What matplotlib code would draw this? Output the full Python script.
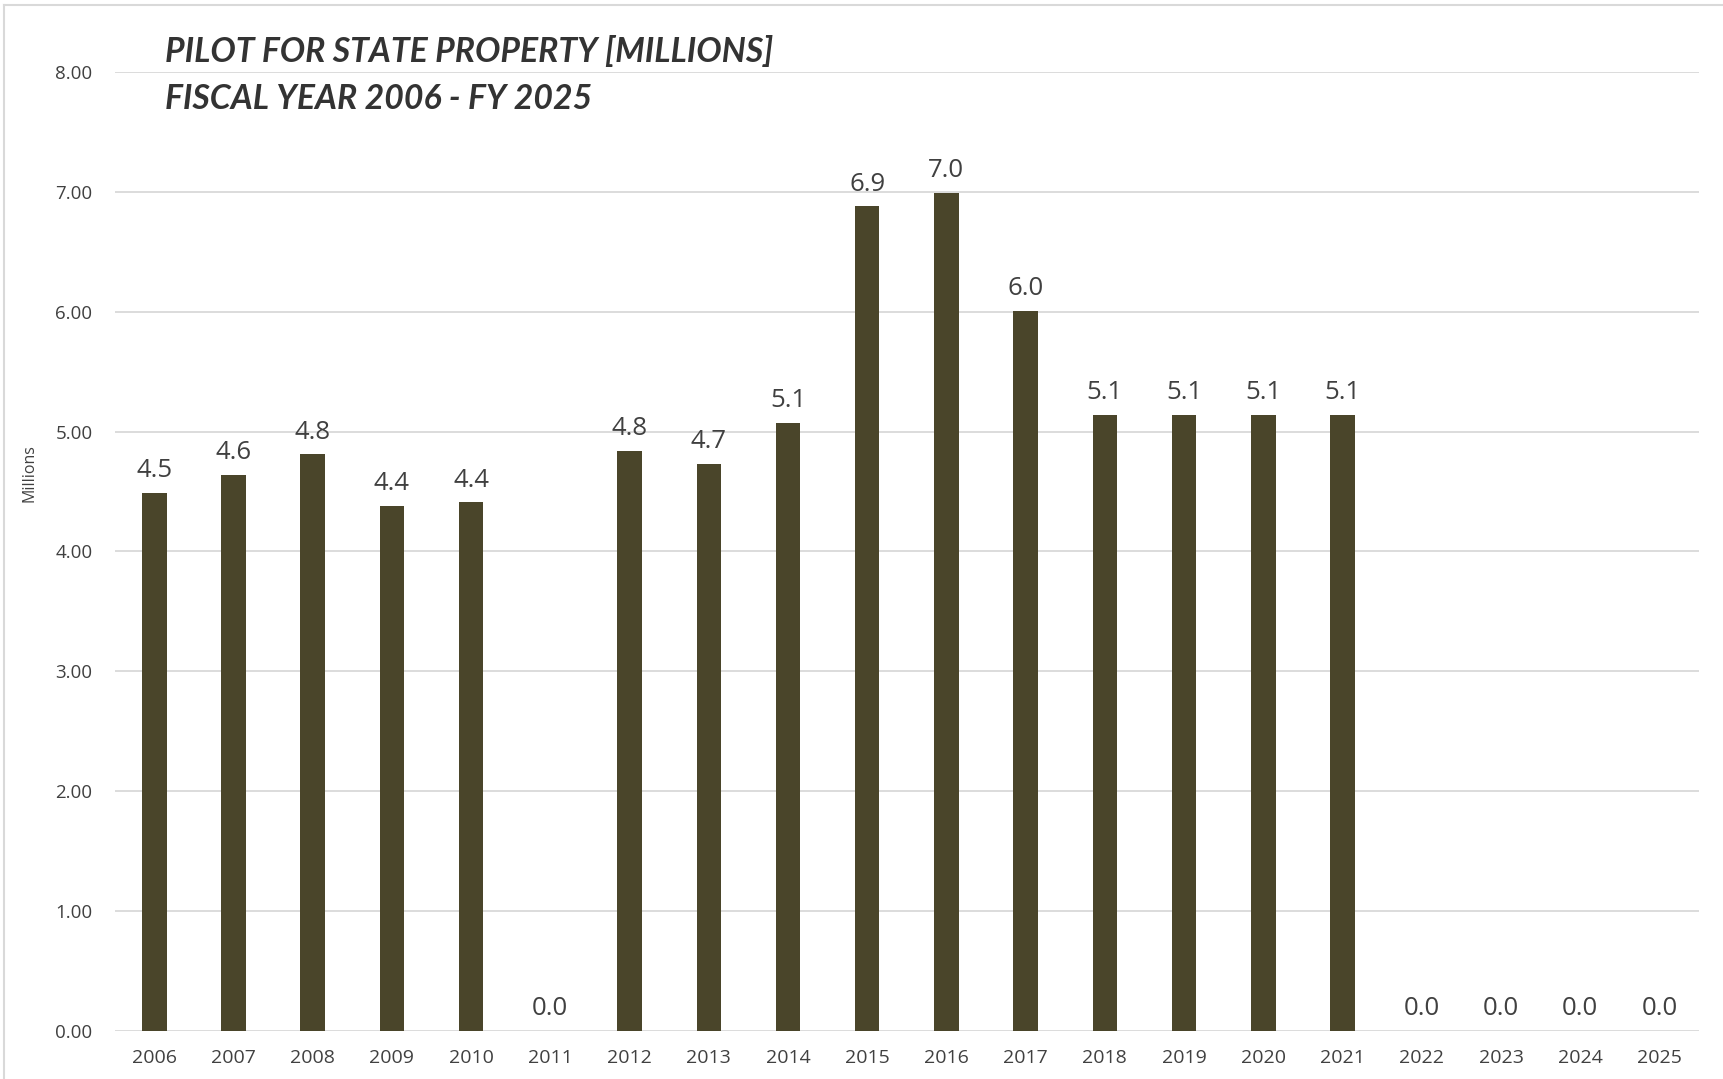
import matplotlib
matplotlib.use("Agg")
import matplotlib.pyplot as plt

years = ["2006", "2007", "2008", "2009", "2010", "2011", "2012", "2013", "2014", "2015",
         "2016", "2017", "2018", "2019", "2020", "2021", "2022", "2023", "2024", "2025"]
pilot_millions = [4.49, 4.64, 4.81, 4.38, 4.41, 0.0, 4.84, 4.73, 5.07, 6.88,
                  6.99, 6.01, 5.14, 5.14, 5.14, 5.14, 0.0, 0.0, 0.0, 0.0]
y_ticks = [0, 1, 2, 3, 4, 5, 6, 7, 8]

BAR = "#4A452A"
TEXT = "#404040"
GRID = "#D9D9D9"
FONT = "Open Sans"

fig = plt.figure(figsize=(17.24, 10.79), dpi=100)
ax = fig.add_axes([0.0665, 0.0445, 0.919, 0.8888])

x = list(range(len(years)))
ax.bar(x, pilot_millions, width=0.31, color=BAR, zorder=3)

for xi, v in zip(x, pilot_millions):
    ax.annotate(f"{v:.1f}", (xi, v), xytext=(0, 7), textcoords="offset points",
                ha="center", va="bottom", fontsize=18.5, color=TEXT, family=FONT)

ax.set_xlim(-0.5, len(years) - 0.5)
ax.set_ylim(0, 8)
ax.set_yticks(y_ticks)
ax.set_yticklabels([f"{t:.2f}" for t in y_ticks], fontsize=13.5, color=TEXT, family=FONT)
ax.set_xticks(x)
ax.set_xticklabels(years, fontsize=14, color=TEXT, family=FONT)
ax.tick_params(axis="both", length=0)
ax.tick_params(axis="y", pad=16)
ax.tick_params(axis="x", pad=13)

ax.grid(axis="y", color=GRID, linewidth=1.3, zorder=0)
for s in ax.spines.values():
    s.set_visible(False)

fig.text(0.0174, 0.562, "Millions", rotation=90, ha="center", va="center",
         fontsize=11.5, color=TEXT, family=FONT)

fig.text(0.0957, 0.952, "PILOT FOR STATE PROPERTY [MILLIONS]", ha="left", va="center",
         fontsize=24.3, fontweight="bold", fontstyle="italic", color="#333333", family="Lato")
fig.text(0.0957, 0.908, "FISCAL YEAR 2006 - FY 2025", ha="left", va="center",
         fontsize=24.3, fontweight="bold", fontstyle="italic", color="#333333", family="Lato")

# chart frame on the left and top edges
fig.add_artist(plt.Line2D([4 / 1724, 4 / 1724], [0, 1 - 5 / 1079], color=GRID,
                          linewidth=1.5, transform=fig.transFigure))
fig.add_artist(plt.Line2D([4 / 1724, 1], [1 - 5 / 1079, 1 - 5 / 1079], color=GRID,
                          linewidth=1.5, transform=fig.transFigure))

fig.savefig("out.png", dpi=100)
